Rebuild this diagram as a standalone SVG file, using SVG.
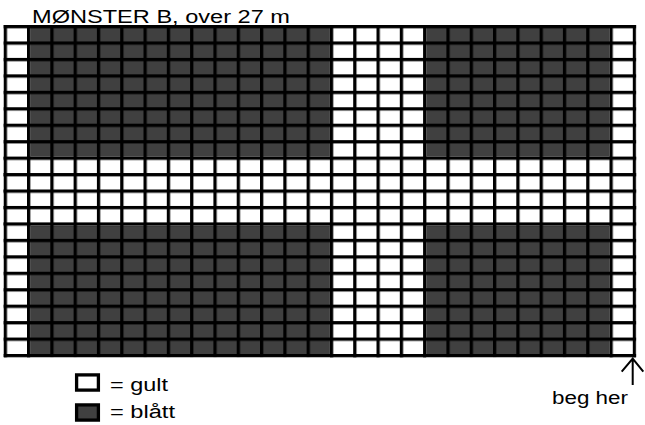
<svg xmlns="http://www.w3.org/2000/svg" width="645" height="425" viewBox="0 0 645 425">
<style>
text{font-family:"Liberation Sans",Arial,sans-serif;font-size:18px;fill:#000}
.arrow{stroke:#000;stroke-width:2;fill:none}
</style>
<defs>
<pattern id="pd" patternUnits="userSpaceOnUse" x="3.7" y="25" width="23.3" height="16.45">
<rect x="0" y="0" width="23.3" height="16.45" fill="#000"/>
<rect x="3.3" y="3.3" width="20" height="13.15" fill="#404040"/>
</pattern>
<pattern id="pw" patternUnits="userSpaceOnUse" x="3.7" y="25" width="23.3" height="16.45">
<rect x="0" y="0" width="23.3" height="16.45" fill="#000"/>
<rect x="3.3" y="3.3" width="20" height="13.15" fill="#fff"/>
</pattern>
</defs>
<text x="32" y="22.5" textLength="258" lengthAdjust="spacingAndGlyphs">MØNSTER B, over 27 m</text>
<g id="grid">
<rect x="3.7" y="25" width="632.4" height="332.3" fill="url(#pd)"/>
<rect x="3.7" y="25" width="26.6" height="332.3" fill="url(#pw)"/>
<rect x="329.9" y="25" width="96.5" height="332.3" fill="url(#pw)"/>
<rect x="609.5" y="25" width="26.6" height="332.3" fill="url(#pw)"/>
<rect x="3.7" y="156.6" width="632.4" height="69.1" fill="url(#pw)"/>
</g>
<g id="legend">
<rect x="76.6" y="374.9" width="21.8" height="15.2" fill="#fff" stroke="#000" stroke-width="3.3"/>
<text x="110" y="391" textLength="58" lengthAdjust="spacingAndGlyphs">= gult</text>
<rect x="76.6" y="404.9" width="21.8" height="15.2" fill="#404040" stroke="#000" stroke-width="3.3"/>
<text x="110" y="418" textLength="65" lengthAdjust="spacingAndGlyphs">= blått</text>
</g>
<g id="connectors">
<path class="arrow" d="M632.7 385V358.5M621.7 371.7L632.7 358.5L643.3 371.7"/>
</g>
<text x="552" y="404" textLength="76" lengthAdjust="spacingAndGlyphs">beg her</text>
</svg>
